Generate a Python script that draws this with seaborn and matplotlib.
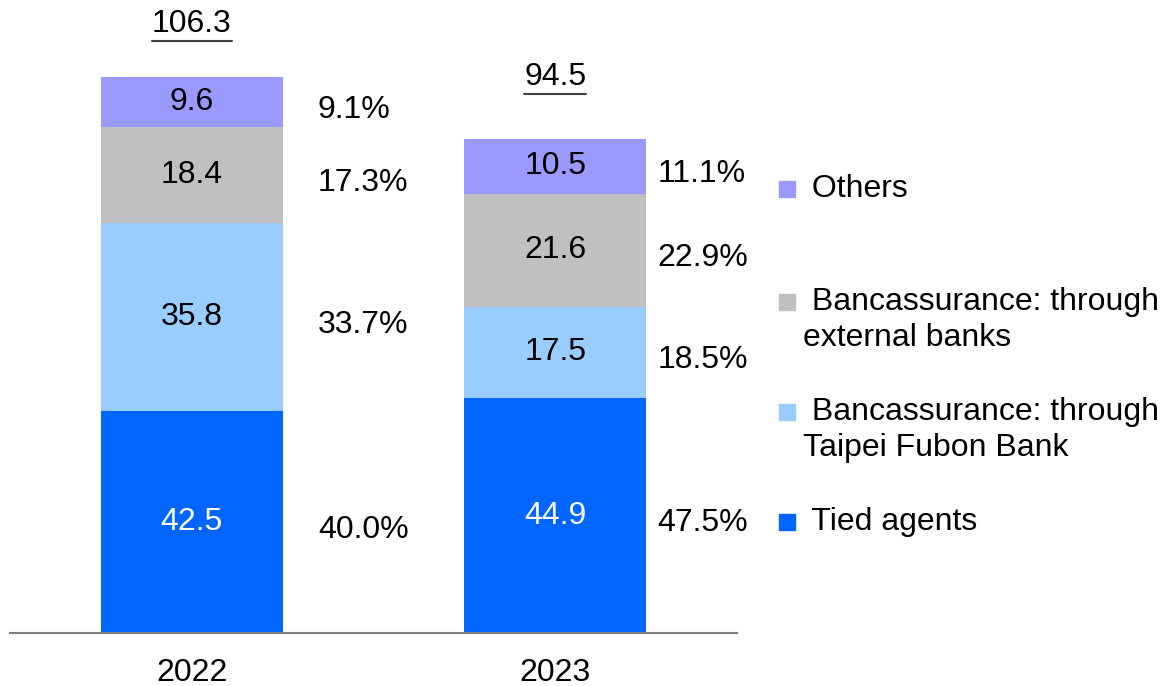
import matplotlib
matplotlib.use("Agg")
import matplotlib.pyplot as plt
from matplotlib.lines import Line2D
import seaborn as sns

# values (NT$bn) and shares
years = ["2022", "2023"]
tied_agents = [42.5, 44.9]
bank_fubon = [35.8, 17.5]
bank_external = [18.4, 21.6]
others = [9.6, 10.5]
tied_pct = [40.0, 47.5]
fubon_pct = [33.7, 18.5]
external_pct = [17.3, 22.9]
others_pct = [9.1, 11.1]
totals = [106.3, 94.5]

# bottom -> top
series = [tied_agents, bank_fubon, bank_external, others]
shares = [tied_pct, fubon_pct, external_pct, others_pct]
labels = ["Tied agents", "Bancassurance: through\nTaipei Fubon Bank",
          "Bancassurance: through\nexternal banks", "Others"]
colors = ["#0066FF", "#99CCFF", "#C0C0C0", "#9999FF"]
text_colors = ["white", "black", "black", "black"]

# layout bits
FS = 23
pct_offset = [0.347, 0.281]   # x offset (left edge) of share labels from bar centre
total_gap = [7.3, 8.9]        # gap between bar top and total label
legend_rows = [522, 412, 302, 189]   # pixel y of first line of each entry (bottom -> top)
W, H = 1166, 686

sns.set_theme(style="white")
plt.rcParams["font.family"] = ["Liberation Sans", "DejaVu Sans"]
plt.rcParams["text.color"] = "black"

fig = plt.figure(figsize=(W / 100, H / 100), dpi=100)
ax = fig.add_axes([10 / W, 53 / H, 727 / W, 633 / H])

# stacked bars: draw cumulative heights from the top series down
cum = []
run = [0.0] * len(years)
for s in series:
    run = [a + b for a, b in zip(run, s)]
    cum.append(run)
for i in reversed(range(len(series))):
    sns.barplot(x=years, y=cum[i], color=colors[i], saturation=1,
                width=0.5, linewidth=0, ax=ax)

# value labels + shares
for j in range(len(years)):
    bottom = 0.0
    for i, s in enumerate(series):
        mid = bottom + s[j] / 2
        ax.text(j, mid, f"{s[j]:.1f}", ha="center", va="center",
                fontsize=FS, color=text_colors[i])
        ax.text(j + pct_offset[j], mid - 1.5, f"{shares[i][j]:.1f}%",
                ha="left", va="center", fontsize=FS, color="black")
        bottom += s[j]

tot_texts = []
for j, t in enumerate(totals):
    tot_texts.append(ax.text(j, t + total_gap[j], f"{t:.1f}", ha="center",
                             va="bottom", fontsize=FS, color="black"))

ax.set_xlim(-0.5, 1.5)
ax.set_ylim(0, 121)
ax.set_yticks([])
ax.set_ylabel("")
ax.tick_params(axis="x", length=0, pad=18, labelsize=FS, colors="black")
for side in ["top", "left", "right"]:
    ax.spines[side].set_visible(False)
ax.spines["bottom"].set_color("#7F7F7F")
ax.spines["bottom"].set_linewidth(1.5)

# legend drawn by hand so the square sits on the first line of each label
for i, lab in enumerate(labels):
    y0 = legend_rows[i]
    fig.add_artist(Line2D([787 / W], [1 - y0 / H], transform=fig.transFigure,
                          marker="s", markersize=11.5, linestyle="none",
                          color=colors[i]))
    for k, line in enumerate((" " + lab).split("\n")):
        fig.text(803 / W, 1 - (y0 + 36 * k) / H, line, ha="left", va="center",
                 fontsize=FS, color="black")

# underline the totals
fig.canvas.draw()
inv = fig.transFigure.inverted()
for t in tot_texts:
    bb = t.get_window_extent()
    (x0, y0), (x1, _) = inv.transform([(bb.x0, bb.y0 - 2), (bb.x1, bb.y0)])
    fig.add_artist(Line2D([x0, x1], [y0, y0], transform=fig.transFigure,
                          color="#404040", linewidth=1.5))

fig.savefig("out.png", dpi=100)
